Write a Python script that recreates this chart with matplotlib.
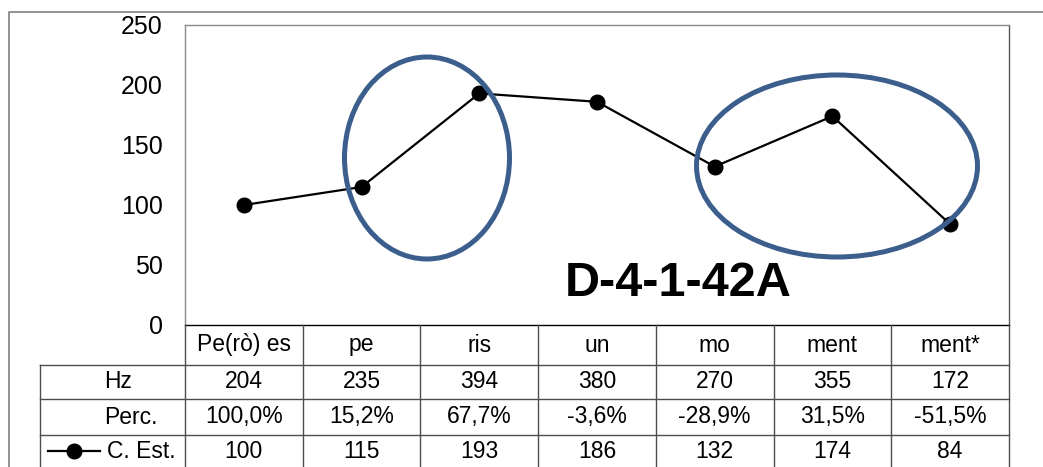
import matplotlib
matplotlib.use('Agg')
import matplotlib.pyplot as plt
from matplotlib import transforms
from matplotlib.patches import Ellipse
from matplotlib.lines import Line2D

plt.rcParams['font.family'] = ['Liberation Sans', 'DejaVu Sans']

# Silben und Messwerte
sillabe = ['Pe(rò) es', 'pe', 'ris', 'un', 'mo', 'ment', 'ment*']
hz = ['204', '235', '394', '380', '270', '355', '172']
perc = ['100,0%', '15,2%', '67,7%', '-3,6%', '-28,9%', '31,5%', '-51,5%']
c_est = [100, 115, 193, 186, 132, 174, 84]
y_ticks = [0, 50, 100, 150, 200, 250]

W, H = 1043, 467
fig = plt.figure(figsize=(W / 100, H / 100), dpi=100)

# Diagrammbereich (Pixel -> Figure-Koordinaten)
L, R, T, B = 185, 1009, 25, 325
ax = fig.add_axes([L / W, 1 - B / H, (R - L) / W, (B - T) / H])
x = list(range(len(sillabe)))
ax.plot(x, c_est, color='black', lw=1.6, marker='o', ms=10.5, zorder=3)
ax.set_xlim(-0.5, len(sillabe) - 0.5)
ax.set_ylim(0, 250)
ax.set_yticks(y_ticks)
ax.set_yticklabels([str(v) for v in y_ticks], fontsize=18)
ax.tick_params(axis='y', length=0, pad=16)
ax.set_xticks([])
for s in ['top', 'left']:
    ax.spines[s].set_color('#8c8c8c')
ax.spines['right'].set_color('#5a5a5a')
ax.spines['bottom'].set_color('black')
for s in ax.spines.values():
    s.set_linewidth(1.0)

ax.text(0.5985, 0.14, 'D-4-1-42A', transform=ax.transAxes, ha='center', va='center',
        fontsize=35, fontweight='bold')

# Überlagerung in Pixelkoordinaten für Tabelle, Rahmen und Ellipsen
ov = fig.add_axes([0, 0, 1, 1])
ov.set_xlim(0, W)
ov.set_ylim(H, 0)
ov.axis('off')
blend = transforms.blended_transform_factory(ax.transData, ov.transData)

# äußerer Rahmen
ov.plot([9, 9, W], [H, 12, 12], color='#7f7f7f', lw=1.2)

# Tabellenlinien
rows = [325, 365, 399, 435, H]
grid_c = '#4d4d4d'
for xv in [k - 0.5 for k in range(len(sillabe) + 1)]:
    ov.plot([xv, xv], [325, H], color=grid_c, lw=1.0, transform=blend)
ov.plot([40, 40], [365, H], color=grid_c, lw=1.0)
for yv in rows[1:-1]:
    ov.plot([40, R], [yv, yv], color=grid_c, lw=1.0)

fs = 16.5
centres = [(rows[i] + rows[i + 1]) / 2 for i in range(4)]
for k in x:
    ov.text(k, centres[0], sillabe[k], transform=blend, ha='center', va='center', fontsize=fs)
    ov.text(k, centres[1], hz[k], transform=blend, ha='center', va='center', fontsize=fs)
    ov.text(k, centres[2], perc[k], transform=blend, ha='center', va='center', fontsize=fs)
    ov.text(k, centres[3], str(c_est[k]), transform=blend, ha='center', va='center', fontsize=fs)

ov.text(118, centres[1], 'Hz', ha='center', va='center', fontsize=fs)
ov.text(131, centres[2], 'Perc.', ha='center', va='center', fontsize=fs)
ov.text(107, centres[3], 'C. Est.', ha='left', va='center', fontsize=fs)
ov.add_line(Line2D([48, 100], [centres[3], centres[3]], color='black', lw=1.6))
ov.plot([74], [centres[3]], marker='o', color='black', ms=10.5)

# Ellipsen um die markierten Silben
blau = '#3b5e8c'
ov.add_patch(Ellipse((427, 158), 165, 202, fill=False, ec=blau, lw=3.6))
ov.add_patch(Ellipse((837, 166), 281, 182, fill=False, ec=blau, lw=3.6))

fig.savefig('out.png', dpi=100)
